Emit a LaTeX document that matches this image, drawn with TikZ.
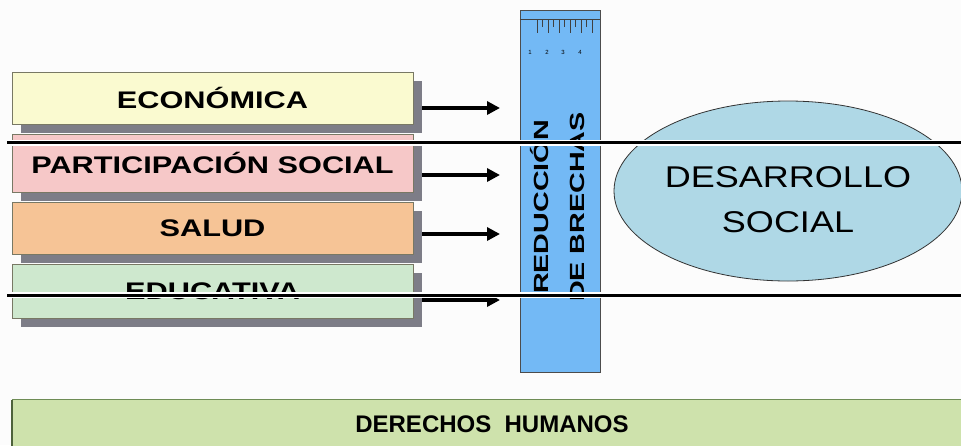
\documentclass[tikz,border=0pt]{standalone}
\usepackage{fontspec}
\setmainfont{Liberation Sans}
\newfontfamily\cajafont[FakeStretch=1.28]{Liberation Sans}
\newfontfamily\reglafont[FakeStretch=1.4]{Liberation Sans}
\newfontfamily\elipsefont[FakeStretch=1.2]{Liberation Sans}
\usepackage{tikz}
\usetikzlibrary{shapes.geometric,shadows,arrows.meta}
\definecolor{amarillo}{RGB}{250,250,208}
\definecolor{rosa}{RGB}{246,200,200}
\definecolor{naranja}{RGB}{246,196,150}
\definecolor{verdeclaro}{RGB}{206,232,206}
\definecolor{verdeband}{RGB}{206,226,172}
\definecolor{bordeband}{RGB}{110,140,85}
\definecolor{sombra}{RGB}{125,125,135}
\definecolor{bordecaja}{RGB}{120,120,100}
\definecolor{azulregla}{RGB}{115,185,245}
\definecolor{celeste}{RGB}{175,216,230}
\tikzstyle{caja}=[draw=bordecaja,line width=0.8pt,minimum width=401pt,minimum height=52pt,inner sep=0pt,copy shadow={shadow xshift=9pt,shadow yshift=-9pt,fill=sombra,draw=none},font=\cajafont\bfseries\fontsize{24}{28}\selectfont]
\tikzstyle{flecha}=[line width=4pt,-{Triangle[length=13pt,width=13pt]}]
\tikzstyle{numero}=[inner sep=0pt,font=\fontsize{6}{7}\selectfont]

\begin{document}
\begin{tikzpicture}[x=1pt,y=-1pt]
      \useasboundingbox (0,0) rectangle (961,445);
      \fill[white!98!gray] (0,0) rectangle (961,445);

      % regla
      \node[draw=gray!60!black,fill=azulregla,minimum width=80pt,minimum height=362pt,inner sep=0pt] (regla) at (560,191) {};
      \draw[gray!50!black,line width=1pt] ([yshift=-10pt]regla.north west) -- ([yshift=-10pt]regla.north east);
      \foreach \x in {537,548,...,592}
        \draw[gray!50!black,line width=0.8pt] (\x,20) -- ++(0,13);
      \foreach \x in {542.5,553.5,...,587.5}
        \draw[gray!50!black,line width=0.8pt] (\x,20) -- ++(0,7);
      \foreach \n/\x in {1/530,2/547,3/563,4/580}
        \node[numero] (num\n) at (\x,52) {\n};
      \node[rotate=90,align=center,inner sep=0pt,font=\reglafont\bfseries\fontsize{20.5}{36}\selectfont] (brechas) at (558,207) {REDUCCIÓN\\DE BRECHAS};

      % cajas
      \node[caja,fill=amarillo] (econ) at (212.5,98) {ECONÓMICA};
      \node[caja,fill=rosa,minimum height=58pt] (part) at (212.5,163) {PARTICIPACIÓN SOCIAL};
      \node[caja,fill=naranja] (salud) at (212.5,228) {SALUD};
      \node[caja,fill=verdeclaro,minimum height=54pt] (educ) at (212.5,291) {EDUCATIVA};

      \coordinate (f1) at (500,108);
      \coordinate (f2) at (500,175);
      \coordinate (f3) at (500,234);
      \coordinate (f4) at (500,300);
      \draw[flecha] ([xshift=9pt,yshift=-10pt]econ.east) -- (f1);
      \draw[flecha] ([xshift=9pt,yshift=-12pt]part.east) -- (f2);
      \draw[flecha] ([xshift=9pt,yshift=-6pt]salud.east) -- (f3);
      \draw[flecha] ([xshift=9pt,yshift=-9pt]educ.east) -- (f4);

      % desarrollo
      \node[ellipse,draw=gray!40!black,line width=0.8pt,fill=celeste,minimum width=334pt,minimum height=180pt,inner sep=0pt,align=center,text height=82pt,text depth=0pt,font=\elipsefont\fontsize{30}{45}\selectfont] (des) at (788,191) {DESARROLLO\\SOCIAL};

      % derechos
      \node[fill=verdeband,minimum width=960pt,minimum height=48pt,inner sep=0pt,font=\bfseries\fontsize{24}{28}\selectfont] (dh) at (492,424) {DERECHOS~~HUMANOS};
      \draw[bordeband,line width=1.2pt] (dh.north west) -- (dh.north east);
      \draw[bordeband!70!black,line width=1.5pt] (dh.north west) -- (dh.south west);

      % lineas
      \fill[white] (7,139.5) rectangle (961,146);
      \draw[line width=3pt] (7,142.5) -- (961,142.5);
      \fill[white] (7,291.5) rectangle (961,297.5);
      \draw[line width=3pt] (7,295) -- (961,295);
    \end{tikzpicture}
\end{document}
